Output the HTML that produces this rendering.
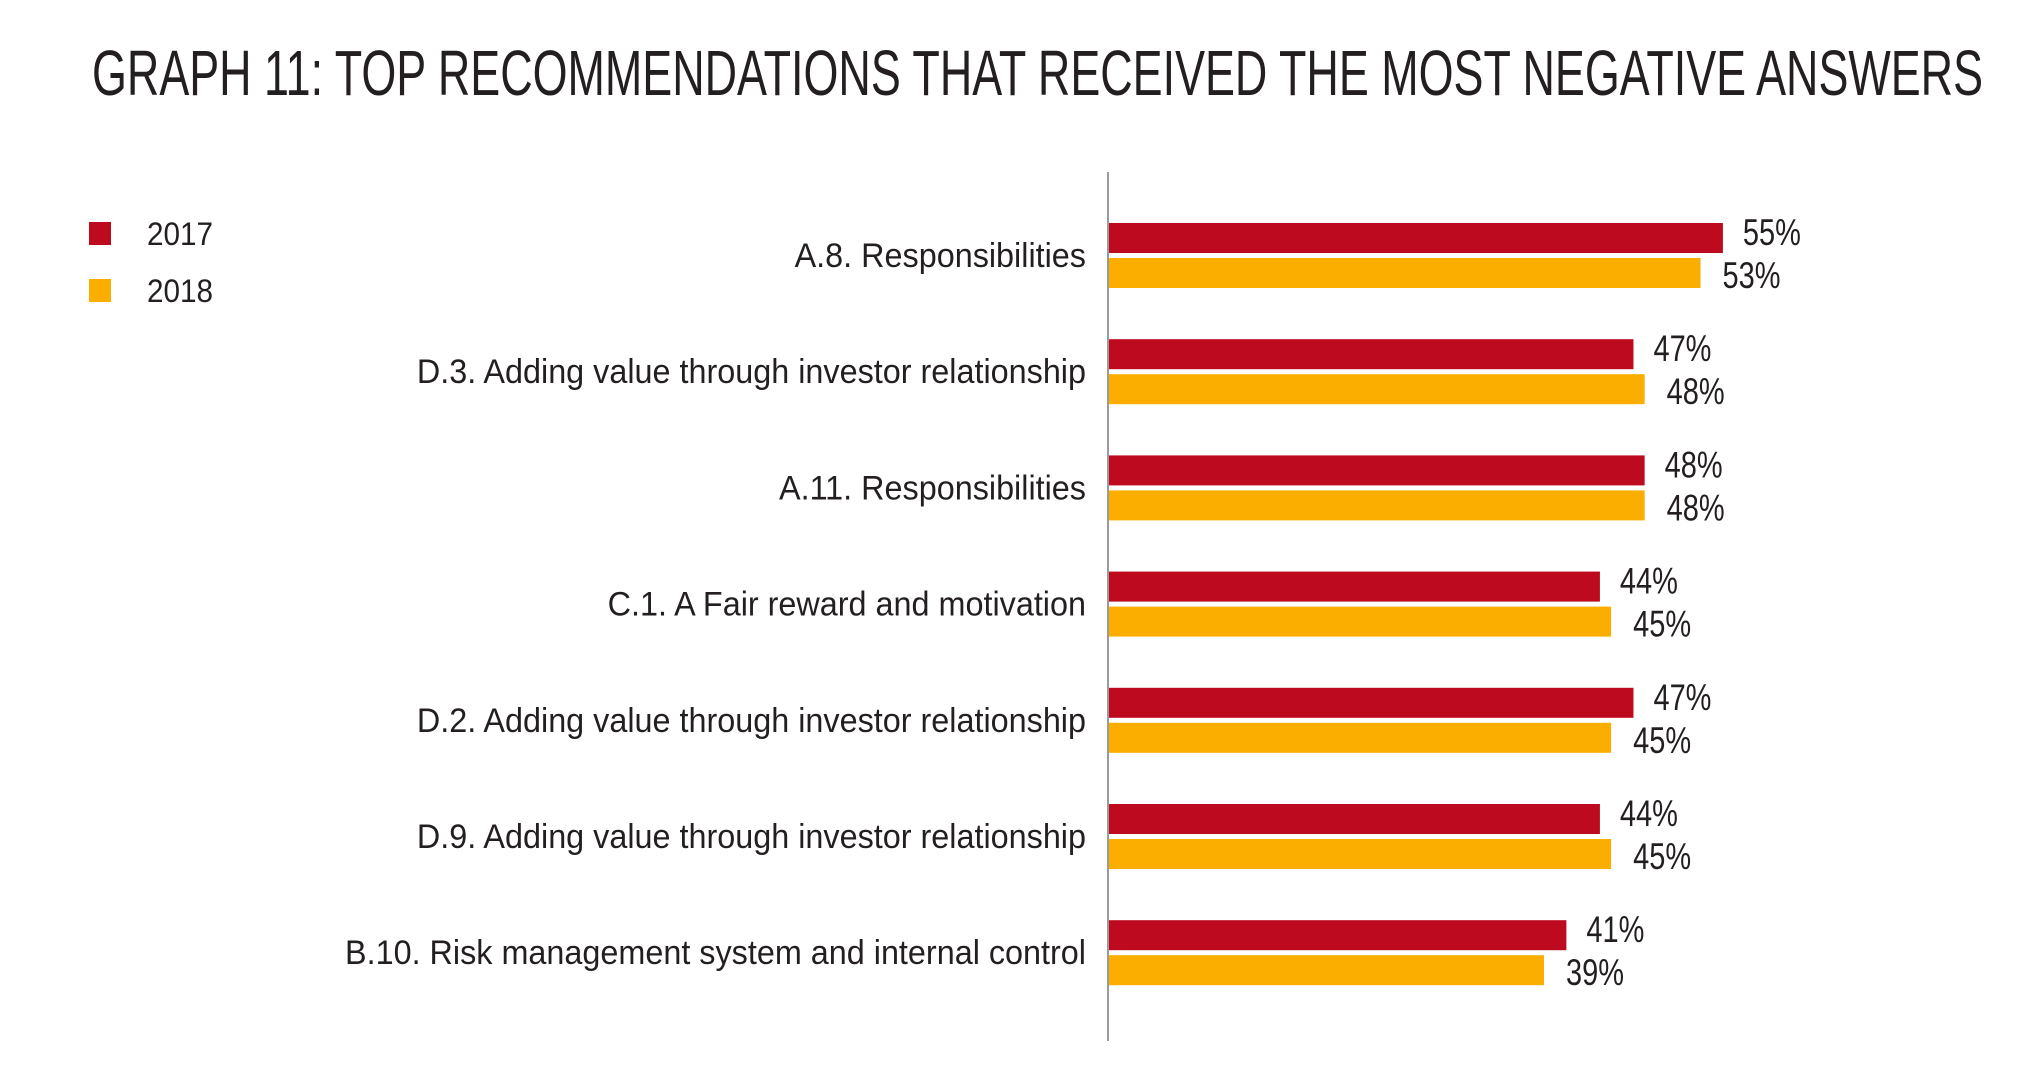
<!DOCTYPE html>
<html><head><meta charset="utf-8"><style>
html,body{margin:0;padding:0;background:#fff;}
svg{display:block;font-family:"Liberation Sans",sans-serif;}
</style></head><body>
<svg id="chart" width="2032" height="1086" viewBox="0 0 2032 1086" xmlns="http://www.w3.org/2000/svg">
<text x="92" y="95" font-size="64" fill="#231f20" textLength="1891" lengthAdjust="spacingAndGlyphs">GRAPH 11: TOP RECOMMENDATIONS THAT RECEIVED THE MOST NEGATIVE ANSWERS</text>
<g>
<rect x="89" y="222" width="22" height="23" fill="#BE0A1E"/>
<text x="147" y="245" font-size="32" fill="#231f20" textLength="66" lengthAdjust="spacingAndGlyphs">2017</text>
<rect x="89" y="279" width="22" height="23" fill="#FBAD00"/>
<text x="147" y="302" font-size="32" fill="#231f20" textLength="66" lengthAdjust="spacingAndGlyphs">2018</text>
</g>
<line x1="1108" y1="172" x2="1108" y2="1041" stroke="#9a9a9a" stroke-width="2"/>
<g id="bars"></g>
</svg>
<script>
const categories = [
  "A.8. Responsibilities",
  "D.3. Adding value through investor relationship",
  "A.11. Responsibilities",
  "C.1. A Fair reward and motivation",
  "D.2. Adding value through investor relationship",
  "D.9. Adding value through investor relationship",
  "B.10. Risk management system and internal control"
];
const values2017 = [55, 47, 48, 44, 47, 44, 41];
const values2018 = [53, 48, 48, 45, 45, 45, 39];

const NS = "http://www.w3.org/2000/svg";
const x0 = 1108, pxPer = 11.18;
const xScale = v => x0 + v * pxPer;
const rowTop = i => 223 + i * 116.2;
const barH = 30, gap = 5;
const g = document.getElementById('bars');
const catTexts = [];

function mk(tag, attrs) {
  const e = document.createElementNS(NS, tag);
  for (const k in attrs) e.setAttribute(k, attrs[k]);
  return e;
}

categories.forEach((c, i) => {
  const top = rowTop(i);
  const r1 = mk('rect', {x: x0 + 1, y: top, width: xScale(values2017[i]) - x0 - 1, height: barH, fill: '#BE0A1E'});
  
  
  g.appendChild(r1);
  const y2 = top + barH + gap;
  const r2 = mk('rect', {x: x0 + 1, y: y2, width: xScale(values2018[i]) - x0 - 1, height: barH, fill: '#FBAD00'});
  
  
  g.appendChild(r2);

  const t1 = mk('text', {x: xScale(values2017[i]) + 20, y: top + barH / 2 + 7, 'font-size': 37, fill: '#231f20', textLength: 58, lengthAdjust: 'spacingAndGlyphs'});
  t1.textContent = values2017[i] + '%';
  
  
  g.appendChild(t1);
  const t2 = mk('text', {x: xScale(values2018[i]) + 22, y: y2 + barH / 2 + 15, 'font-size': 37, fill: '#231f20', textLength: 58, lengthAdjust: 'spacingAndGlyphs'});
  t2.textContent = values2018[i] + '%';
  
  
  g.appendChild(t2);

  const ct = mk('text', {x: 1086, y: top + 32 + 12, 'font-size': 34, fill: '#231f20', 'text-anchor': 'end'});
  ct.textContent = c;
  
  
  g.appendChild(ct);
  catTexts.push(ct);
});

// compress category labels uniformly to match condensed typeface
let maxLen = 0;
catTexts.forEach(t => { maxLen = Math.max(maxLen, t.getComputedTextLength()); });
const k = maxLen > 0 ? 741 / maxLen : 1;
catTexts.forEach(t => {
  const L = t.getComputedTextLength();
  t.setAttribute('textLength', (L * k).toFixed(1));
  t.setAttribute('lengthAdjust', 'spacingAndGlyphs');
});
</script>
</body></html>
